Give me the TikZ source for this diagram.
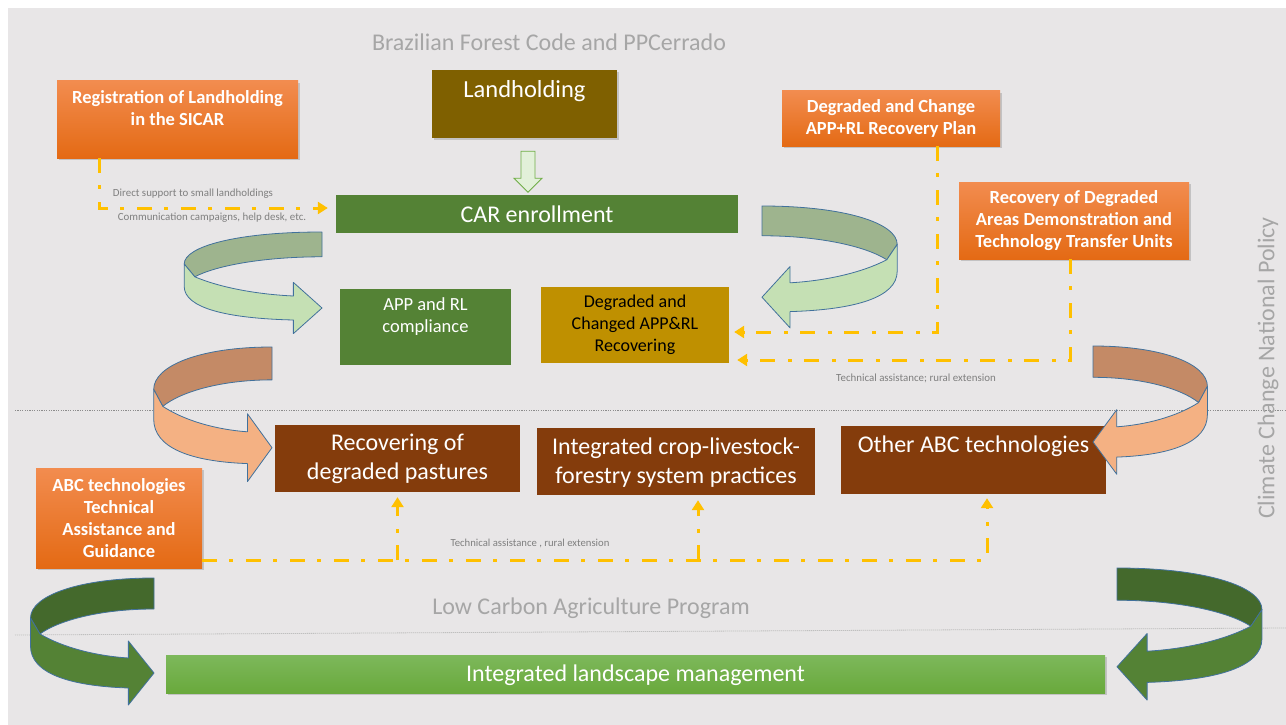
\documentclass[tikz,border=0pt]{standalone}
\usepackage{fontspec}
\setmainfont{Carlito}
\usetikzlibrary{arrows.meta,shadows,calc}
\definecolor{bgc}{HTML}{E8E6E7}
\definecolor{titlegray}{HTML}{A6A6A6}
\definecolor{labgray}{HTML}{7F7F7F}
\definecolor{gold}{HTML}{FFC000}
\definecolor{orTop}{HTML}{F28C4F}
\definecolor{orBot}{HTML}{E46A14}
\definecolor{olive}{HTML}{7F6000}
\definecolor{dgreen}{HTML}{548235}
\definecolor{mustard}{HTML}{BF9000}
\definecolor{rbrown}{HTML}{843C0C}
\definecolor{lgTop}{HTML}{7DB85B}
\definecolor{lgBot}{HTML}{69A93C}
\definecolor{outl}{HTML}{41719C}
\definecolor{gDark}{HTML}{9EB48E}
\definecolor{gLight}{HTML}{C5E0B4}
\definecolor{bDark}{HTML}{C48A66}
\definecolor{bLight}{HTML}{F4B183}
\definecolor{fDark}{HTML}{44692C}
\definecolor{fLight}{HTML}{548235}
\definecolor{holfill}{HTML}{E2F0D9}
\definecolor{holdraw}{HTML}{70AD47}
\newcommand{\myuturn}[6]{%
  \begin{scope}[shift={(#1,#2)},xscale=#3,yscale=#4]
    \filldraw[fill=#5,draw=outl,line width=0.8pt,line join=round]
      (0,0) .. controls (-80,0) and (-130,18) .. (-130,40) -- (-120,56)
      .. controls (-100,42) and (-55,31) .. (0,31) -- cycle;
    \filldraw[fill=#6,draw=outl,line width=0.8pt,line join=round]
      (-130,40) -- (-120,56) .. controls (-95,70) and (-60,78) .. (-27,80)
      -- (-27,63) -- (0,95) -- (-27,127) -- (-27,110)
      .. controls (-90,108) and (-130,95) .. (-130,68) -- cycle;
  \end{scope}}
\tikzset{
  box/.style={rectangle, inner sep=0pt, draw=none},
  shad/.style={drop shadow={opacity=0.35,shadow xshift=1.5pt,shadow yshift=-2pt}},
  obox/.style={box, top color=orTop, bottom color=orBot, shad},
  otxt/.style={text=white, align=center, inner sep=0pt, font=\fontsize{18.5}{22}\selectfont\bfseries},
  mtxt/.style={text=white, align=center, inner sep=0pt, font=\fontsize{18.5}{22}\selectfont},
  btxt/.style={text=white, align=center, inner sep=0pt, font=\fontsize{24}{28.5}\selectfont},
  title/.style={text=titlegray, inner sep=0pt, font=\fontsize{24}{28}\selectfont},
  small/.style={text=labgray, inner sep=0pt, font=\fontsize{10.9}{12}\selectfont},
  gline/.style={draw=gold, line width=3pt, dash pattern=on 15pt off 12pt on 4pt off 13pt},
  tip/.style={-{Triangle[length=10pt,width=12pt]}},
  dotline/.style={draw=black!45, line width=1pt, dash pattern=on 1.2pt off 1.2pt},
  dotline2/.style={draw=black!25, line width=0.8pt, dash pattern=on 1.2pt off 0.8pt},
  hol/.style={fill=holfill, draw=holdraw, line width=0.9pt, line join=miter}
}
\begin{document}
\begin{tikzpicture}[x=1pt,y=-1pt]
\useasboundingbox (0,0) rectangle (1286,725);
\fill[white] (0,0) rectangle (1286,725);
\fill[bgc] (8,8) rectangle (1286,725);
% separators
\draw[dotline] (15,410) -- (1286,410);
\draw[dotline2] (15,635) -- (1286,628);
% titles
\node[title] (t1) at (549,42) {Brazilian Forest Code and PPCerrado};
\node[title] (t2) at (591,608) {Low Carbon Agriculture Program};
\node[title, rotate=90] (t3) at (1268,368) {Climate Change National Policy};
% boxes
\node[obox, minimum width=241pt, minimum height=77pt] (reg) at (177.5,119.5) {};
\node[otxt] (regt) at (177.5,108) {Registration of Landholding\\in the SICAR};
\node[box, fill=olive, shad, minimum width=185pt, minimum height=68pt] (land) at (524.5,104) {};
\node[btxt, font=\fontsize{24.5}{28}\selectfont] (landt) at (524.5,91) {Landholding};
\node[obox, minimum width=218pt, minimum height=55pt] (plan) at (891,118.5) {};
\node[otxt] (plant) at (891,118) {Degraded and Change\\APP+RL Recovery Plan};
\node[obox, minimum width=230pt, minimum height=77pt] (units) at (1074,220.5) {};
\node[otxt] (unitst) at (1074,221) {Recovery of Degraded\\Areas Demonstration and\\Technology Transfer Units};
\node[box, fill=dgreen, minimum width=402pt, minimum height=38pt] (car) at (537,214) {};
\node[btxt] (cart) at (537,214) {CAR enrollment};
\node[box, fill=dgreen, minimum width=171pt, minimum height=76pt] (app) at (425.5,327) {};
\node[mtxt] (appt) at (425.5,317) {APP and RL\\compliance};
\node[box, fill=mustard, minimum width=188pt, minimum height=76pt] (degr) at (635,325) {};
\node[mtxt, text=black, font=\fontsize{18}{22}\selectfont] (degrt) at (635,325) {Degraded and\\Changed APP\&RL\\Recovering};
\node[box, fill=rbrown, minimum width=245pt, minimum height=67pt] (past) at (397.5,458.5) {};
\node[btxt] (pastt) at (397.5,459) {Recovering of\\degraded pastures};
\node[box, fill=rbrown, minimum width=278pt, minimum height=67pt] (icl) at (676,461.5) {};
\node[btxt] (iclt) at (676,462.5) {Integrated crop-livestock-\\forestry system practices};
\node[box, fill=rbrown, minimum width=265pt, minimum height=68pt] (other) at (973.5,460) {};
\node[btxt] (othert) at (973.5,446) {Other ABC technologies};
\node[obox, minimum width=166pt, minimum height=100pt] (abc) at (119,518) {};
\node[otxt] (abct) at (119,518) {ABC technologies\\Technical\\Assistance and\\Guidance};
\node[box, top color=lgTop, bottom color=lgBot, shad, minimum width=939pt, minimum height=38pt] (ilm) at (635.5,674) {};
\node[btxt] (ilmt) at (635.5,675) {Integrated landscape management};
% curved arrows
\myuturn{322}{232}{1.06}{0.80}{gDark}{gLight}
\myuturn{762}{206}{-1.04}{0.96}{gDark}{gLight}
\myuturn{272}{347}{0.91}{1.06}{bDark}{bLight}
\myuturn{1093}{346}{-0.88}{1.01}{bDark}{bLight}
\myuturn{154}{578}{0.95}{1.00}{fDark}{fLight}
\myuturn{1117}{568}{-1.115}{1.04}{fDark}{fLight}
% hollow arrow landholding -> CAR
\draw[hol] ($(land.south)+(-3.5,13)$) -- ++(14,0) -- ++(0,27) -- ++(7,0) -- ++(-14,14) -- ++(-14,-14) -- ++(7,0) -- cycle;
% gold connectors
\draw[gline, tip, shorten >=8pt] ([xshift=-78.5pt]reg.south) |- ([yshift=6pt]car.west);
\draw[gline, tip, shorten >=5pt] ([xshift=46pt]plan.south) |- ([yshift=-7pt]degr.east);
\draw[gline, tip, shorten >=8pt] ([xshift=-4pt]units.south) |- ([yshift=-35pt]degr.east);
\coordinate (jr) at ([yshift=-42pt]abc.east);
\coordinate (otha) at ([xshift=13.5pt]other.south);
\coordinate (icla) at ([xshift=22pt]icl.south);
\draw[gline, tip, shorten >=4pt] (jr) -| (otha);
\draw[gline, tip, shorten >=5pt] (past.south |- jr) -- (past.south);
\draw[gline, tip, shorten >=5pt] (icla |- jr) -- (icla);
% labels
\node[small] (l1) at (193,194) {Direct support to small landholdings};
\node[small] (l2) at (212,218) {Communication campaigns, help desk, etc.};
\node[small] (l3) at (916,378) {Technical assistance; rural extension};
\node[small, font=\fontsize{10.7}{12}\selectfont] (l4) at (530,543) {Technical assistance , rural extension};
\end{tikzpicture}
\end{document}
